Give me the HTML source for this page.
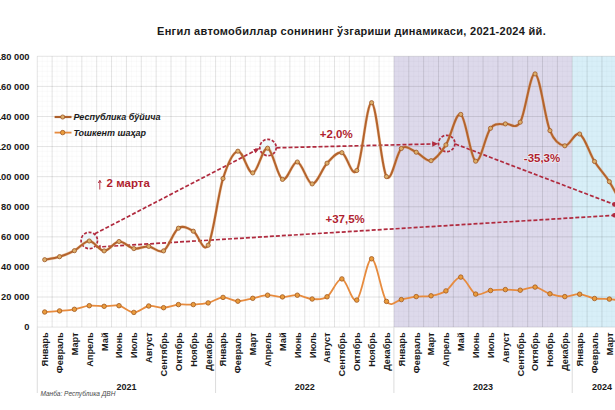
<!DOCTYPE html>
<html><head><meta charset="utf-8"><style>
html,body{margin:0;padding:0;background:#fff;width:615px;height:410px;overflow:hidden}
svg{position:absolute;left:0;top:0}
text{font-family:"Liberation Sans",sans-serif}
.yl{font-size:9.3px;font-weight:bold;fill:#1a1a1a}
.xl{font-size:9.2px;font-weight:bold;fill:#1a1a1a}
.yr{font-size:9px;font-weight:bold;fill:#1a1a1a}
.lg{font-size:9px;font-weight:bold;font-style:italic;fill:#1a1a1a}
.an{font-size:11.5px;font-weight:bold;fill:#b01f30;paint-order:stroke;stroke:#fff;stroke-opacity:0.6;stroke-width:1.5px}
.ti{font-size:11px;font-weight:bold;letter-spacing:0.29px;fill:#1a1a1a}
.src{font-size:7.6px;font-style:italic;fill:#4a4a4a}
</style></head><body>
<svg width="615" height="410" viewBox="0 0 615 410">
<rect x="393.91" y="56.29" width="178.32" height="270.81" fill="#ddd9eb"/>
<rect x="572.23" y="56.29" width="62.77" height="270.81" fill="#d8eff8"/>
<line x1="37.27" y1="61.29" x2="620" y2="61.29" stroke="#000" stroke-opacity="0.022" stroke-width="1"/>
<line x1="37.27" y1="66.29" x2="620" y2="66.29" stroke="#000" stroke-opacity="0.022" stroke-width="1"/>
<line x1="37.27" y1="71.29" x2="620" y2="71.29" stroke="#000" stroke-opacity="0.022" stroke-width="1"/>
<line x1="37.27" y1="76.29" x2="620" y2="76.29" stroke="#000" stroke-opacity="0.022" stroke-width="1"/>
<line x1="37.27" y1="81.29" x2="620" y2="81.29" stroke="#000" stroke-opacity="0.022" stroke-width="1"/>
<line x1="37.27" y1="91.29" x2="620" y2="91.29" stroke="#000" stroke-opacity="0.022" stroke-width="1"/>
<line x1="37.27" y1="96.29" x2="620" y2="96.29" stroke="#000" stroke-opacity="0.022" stroke-width="1"/>
<line x1="37.27" y1="101.29" x2="620" y2="101.29" stroke="#000" stroke-opacity="0.022" stroke-width="1"/>
<line x1="37.27" y1="106.29" x2="620" y2="106.29" stroke="#000" stroke-opacity="0.022" stroke-width="1"/>
<line x1="37.27" y1="111.29" x2="620" y2="111.29" stroke="#000" stroke-opacity="0.022" stroke-width="1"/>
<line x1="37.27" y1="121.29" x2="620" y2="121.29" stroke="#000" stroke-opacity="0.022" stroke-width="1"/>
<line x1="37.27" y1="126.29" x2="620" y2="126.29" stroke="#000" stroke-opacity="0.022" stroke-width="1"/>
<line x1="37.27" y1="131.29" x2="620" y2="131.29" stroke="#000" stroke-opacity="0.022" stroke-width="1"/>
<line x1="37.27" y1="136.29" x2="620" y2="136.29" stroke="#000" stroke-opacity="0.022" stroke-width="1"/>
<line x1="37.27" y1="141.29" x2="620" y2="141.29" stroke="#000" stroke-opacity="0.022" stroke-width="1"/>
<line x1="37.27" y1="151.29" x2="620" y2="151.29" stroke="#000" stroke-opacity="0.022" stroke-width="1"/>
<line x1="37.27" y1="156.29" x2="620" y2="156.29" stroke="#000" stroke-opacity="0.022" stroke-width="1"/>
<line x1="37.27" y1="161.29" x2="620" y2="161.29" stroke="#000" stroke-opacity="0.022" stroke-width="1"/>
<line x1="37.27" y1="166.29" x2="620" y2="166.29" stroke="#000" stroke-opacity="0.022" stroke-width="1"/>
<line x1="37.27" y1="171.29" x2="620" y2="171.29" stroke="#000" stroke-opacity="0.022" stroke-width="1"/>
<line x1="37.27" y1="181.29" x2="620" y2="181.29" stroke="#000" stroke-opacity="0.022" stroke-width="1"/>
<line x1="37.27" y1="186.29" x2="620" y2="186.29" stroke="#000" stroke-opacity="0.022" stroke-width="1"/>
<line x1="37.27" y1="191.29" x2="620" y2="191.29" stroke="#000" stroke-opacity="0.022" stroke-width="1"/>
<line x1="37.27" y1="196.29" x2="620" y2="196.29" stroke="#000" stroke-opacity="0.022" stroke-width="1"/>
<line x1="37.27" y1="201.29" x2="620" y2="201.29" stroke="#000" stroke-opacity="0.022" stroke-width="1"/>
<line x1="37.27" y1="211.29" x2="620" y2="211.29" stroke="#000" stroke-opacity="0.022" stroke-width="1"/>
<line x1="37.27" y1="216.29" x2="620" y2="216.29" stroke="#000" stroke-opacity="0.022" stroke-width="1"/>
<line x1="37.27" y1="221.29" x2="620" y2="221.29" stroke="#000" stroke-opacity="0.022" stroke-width="1"/>
<line x1="37.27" y1="226.29" x2="620" y2="226.29" stroke="#000" stroke-opacity="0.022" stroke-width="1"/>
<line x1="37.27" y1="231.29" x2="620" y2="231.29" stroke="#000" stroke-opacity="0.022" stroke-width="1"/>
<line x1="37.27" y1="241.29" x2="620" y2="241.29" stroke="#000" stroke-opacity="0.022" stroke-width="1"/>
<line x1="37.27" y1="246.29" x2="620" y2="246.29" stroke="#000" stroke-opacity="0.022" stroke-width="1"/>
<line x1="37.27" y1="251.29" x2="620" y2="251.29" stroke="#000" stroke-opacity="0.022" stroke-width="1"/>
<line x1="37.27" y1="256.29" x2="620" y2="256.29" stroke="#000" stroke-opacity="0.022" stroke-width="1"/>
<line x1="37.27" y1="261.29" x2="620" y2="261.29" stroke="#000" stroke-opacity="0.022" stroke-width="1"/>
<line x1="37.27" y1="271.29" x2="620" y2="271.29" stroke="#000" stroke-opacity="0.022" stroke-width="1"/>
<line x1="37.27" y1="276.29" x2="620" y2="276.29" stroke="#000" stroke-opacity="0.022" stroke-width="1"/>
<line x1="37.27" y1="281.29" x2="620" y2="281.29" stroke="#000" stroke-opacity="0.022" stroke-width="1"/>
<line x1="37.27" y1="286.29" x2="620" y2="286.29" stroke="#000" stroke-opacity="0.022" stroke-width="1"/>
<line x1="37.27" y1="291.29" x2="620" y2="291.29" stroke="#000" stroke-opacity="0.022" stroke-width="1"/>
<line x1="37.27" y1="301.29" x2="620" y2="301.29" stroke="#000" stroke-opacity="0.022" stroke-width="1"/>
<line x1="37.27" y1="306.29" x2="620" y2="306.29" stroke="#000" stroke-opacity="0.022" stroke-width="1"/>
<line x1="37.27" y1="311.29" x2="620" y2="311.29" stroke="#000" stroke-opacity="0.022" stroke-width="1"/>
<line x1="37.27" y1="316.29" x2="620" y2="316.29" stroke="#000" stroke-opacity="0.022" stroke-width="1"/>
<line x1="37.27" y1="321.29" x2="620" y2="321.29" stroke="#000" stroke-opacity="0.022" stroke-width="1"/>
<line x1="42.22" y1="56.29" x2="42.22" y2="327.10" stroke="#000" stroke-opacity="0.02" stroke-width="1"/>
<line x1="47.18" y1="56.29" x2="47.18" y2="327.10" stroke="#000" stroke-opacity="0.02" stroke-width="1"/>
<line x1="57.08" y1="56.29" x2="57.08" y2="327.10" stroke="#000" stroke-opacity="0.02" stroke-width="1"/>
<line x1="62.04" y1="56.29" x2="62.04" y2="327.10" stroke="#000" stroke-opacity="0.02" stroke-width="1"/>
<line x1="71.94" y1="56.29" x2="71.94" y2="327.10" stroke="#000" stroke-opacity="0.02" stroke-width="1"/>
<line x1="76.90" y1="56.29" x2="76.90" y2="327.10" stroke="#000" stroke-opacity="0.02" stroke-width="1"/>
<line x1="86.80" y1="56.29" x2="86.80" y2="327.10" stroke="#000" stroke-opacity="0.02" stroke-width="1"/>
<line x1="91.76" y1="56.29" x2="91.76" y2="327.10" stroke="#000" stroke-opacity="0.02" stroke-width="1"/>
<line x1="101.66" y1="56.29" x2="101.66" y2="327.10" stroke="#000" stroke-opacity="0.02" stroke-width="1"/>
<line x1="106.62" y1="56.29" x2="106.62" y2="327.10" stroke="#000" stroke-opacity="0.02" stroke-width="1"/>
<line x1="116.52" y1="56.29" x2="116.52" y2="327.10" stroke="#000" stroke-opacity="0.02" stroke-width="1"/>
<line x1="121.48" y1="56.29" x2="121.48" y2="327.10" stroke="#000" stroke-opacity="0.02" stroke-width="1"/>
<line x1="131.38" y1="56.29" x2="131.38" y2="327.10" stroke="#000" stroke-opacity="0.02" stroke-width="1"/>
<line x1="136.34" y1="56.29" x2="136.34" y2="327.10" stroke="#000" stroke-opacity="0.02" stroke-width="1"/>
<line x1="146.24" y1="56.29" x2="146.24" y2="327.10" stroke="#000" stroke-opacity="0.02" stroke-width="1"/>
<line x1="151.20" y1="56.29" x2="151.20" y2="327.10" stroke="#000" stroke-opacity="0.02" stroke-width="1"/>
<line x1="161.10" y1="56.29" x2="161.10" y2="327.10" stroke="#000" stroke-opacity="0.02" stroke-width="1"/>
<line x1="166.06" y1="56.29" x2="166.06" y2="327.10" stroke="#000" stroke-opacity="0.02" stroke-width="1"/>
<line x1="175.96" y1="56.29" x2="175.96" y2="327.10" stroke="#000" stroke-opacity="0.02" stroke-width="1"/>
<line x1="180.92" y1="56.29" x2="180.92" y2="327.10" stroke="#000" stroke-opacity="0.02" stroke-width="1"/>
<line x1="190.82" y1="56.29" x2="190.82" y2="327.10" stroke="#000" stroke-opacity="0.02" stroke-width="1"/>
<line x1="195.78" y1="56.29" x2="195.78" y2="327.10" stroke="#000" stroke-opacity="0.02" stroke-width="1"/>
<line x1="205.68" y1="56.29" x2="205.68" y2="327.10" stroke="#000" stroke-opacity="0.02" stroke-width="1"/>
<line x1="210.64" y1="56.29" x2="210.64" y2="327.10" stroke="#000" stroke-opacity="0.02" stroke-width="1"/>
<line x1="220.54" y1="56.29" x2="220.54" y2="327.10" stroke="#000" stroke-opacity="0.02" stroke-width="1"/>
<line x1="225.50" y1="56.29" x2="225.50" y2="327.10" stroke="#000" stroke-opacity="0.02" stroke-width="1"/>
<line x1="235.40" y1="56.29" x2="235.40" y2="327.10" stroke="#000" stroke-opacity="0.02" stroke-width="1"/>
<line x1="240.36" y1="56.29" x2="240.36" y2="327.10" stroke="#000" stroke-opacity="0.02" stroke-width="1"/>
<line x1="250.26" y1="56.29" x2="250.26" y2="327.10" stroke="#000" stroke-opacity="0.02" stroke-width="1"/>
<line x1="255.22" y1="56.29" x2="255.22" y2="327.10" stroke="#000" stroke-opacity="0.02" stroke-width="1"/>
<line x1="265.12" y1="56.29" x2="265.12" y2="327.10" stroke="#000" stroke-opacity="0.02" stroke-width="1"/>
<line x1="270.08" y1="56.29" x2="270.08" y2="327.10" stroke="#000" stroke-opacity="0.02" stroke-width="1"/>
<line x1="279.98" y1="56.29" x2="279.98" y2="327.10" stroke="#000" stroke-opacity="0.02" stroke-width="1"/>
<line x1="284.94" y1="56.29" x2="284.94" y2="327.10" stroke="#000" stroke-opacity="0.02" stroke-width="1"/>
<line x1="294.84" y1="56.29" x2="294.84" y2="327.10" stroke="#000" stroke-opacity="0.02" stroke-width="1"/>
<line x1="299.80" y1="56.29" x2="299.80" y2="327.10" stroke="#000" stroke-opacity="0.02" stroke-width="1"/>
<line x1="309.70" y1="56.29" x2="309.70" y2="327.10" stroke="#000" stroke-opacity="0.02" stroke-width="1"/>
<line x1="314.66" y1="56.29" x2="314.66" y2="327.10" stroke="#000" stroke-opacity="0.02" stroke-width="1"/>
<line x1="324.56" y1="56.29" x2="324.56" y2="327.10" stroke="#000" stroke-opacity="0.02" stroke-width="1"/>
<line x1="329.52" y1="56.29" x2="329.52" y2="327.10" stroke="#000" stroke-opacity="0.02" stroke-width="1"/>
<line x1="339.42" y1="56.29" x2="339.42" y2="327.10" stroke="#000" stroke-opacity="0.02" stroke-width="1"/>
<line x1="344.38" y1="56.29" x2="344.38" y2="327.10" stroke="#000" stroke-opacity="0.02" stroke-width="1"/>
<line x1="354.28" y1="56.29" x2="354.28" y2="327.10" stroke="#000" stroke-opacity="0.02" stroke-width="1"/>
<line x1="359.24" y1="56.29" x2="359.24" y2="327.10" stroke="#000" stroke-opacity="0.02" stroke-width="1"/>
<line x1="369.14" y1="56.29" x2="369.14" y2="327.10" stroke="#000" stroke-opacity="0.02" stroke-width="1"/>
<line x1="374.10" y1="56.29" x2="374.10" y2="327.10" stroke="#000" stroke-opacity="0.02" stroke-width="1"/>
<line x1="384.00" y1="56.29" x2="384.00" y2="327.10" stroke="#000" stroke-opacity="0.02" stroke-width="1"/>
<line x1="388.96" y1="56.29" x2="388.96" y2="327.10" stroke="#000" stroke-opacity="0.02" stroke-width="1"/>
<line x1="398.86" y1="56.29" x2="398.86" y2="327.10" stroke="#000" stroke-opacity="0.02" stroke-width="1"/>
<line x1="403.82" y1="56.29" x2="403.82" y2="327.10" stroke="#000" stroke-opacity="0.02" stroke-width="1"/>
<line x1="413.72" y1="56.29" x2="413.72" y2="327.10" stroke="#000" stroke-opacity="0.02" stroke-width="1"/>
<line x1="418.68" y1="56.29" x2="418.68" y2="327.10" stroke="#000" stroke-opacity="0.02" stroke-width="1"/>
<line x1="428.58" y1="56.29" x2="428.58" y2="327.10" stroke="#000" stroke-opacity="0.02" stroke-width="1"/>
<line x1="433.54" y1="56.29" x2="433.54" y2="327.10" stroke="#000" stroke-opacity="0.02" stroke-width="1"/>
<line x1="443.44" y1="56.29" x2="443.44" y2="327.10" stroke="#000" stroke-opacity="0.02" stroke-width="1"/>
<line x1="448.40" y1="56.29" x2="448.40" y2="327.10" stroke="#000" stroke-opacity="0.02" stroke-width="1"/>
<line x1="458.30" y1="56.29" x2="458.30" y2="327.10" stroke="#000" stroke-opacity="0.02" stroke-width="1"/>
<line x1="463.26" y1="56.29" x2="463.26" y2="327.10" stroke="#000" stroke-opacity="0.02" stroke-width="1"/>
<line x1="473.16" y1="56.29" x2="473.16" y2="327.10" stroke="#000" stroke-opacity="0.02" stroke-width="1"/>
<line x1="478.12" y1="56.29" x2="478.12" y2="327.10" stroke="#000" stroke-opacity="0.02" stroke-width="1"/>
<line x1="488.02" y1="56.29" x2="488.02" y2="327.10" stroke="#000" stroke-opacity="0.02" stroke-width="1"/>
<line x1="492.98" y1="56.29" x2="492.98" y2="327.10" stroke="#000" stroke-opacity="0.02" stroke-width="1"/>
<line x1="502.88" y1="56.29" x2="502.88" y2="327.10" stroke="#000" stroke-opacity="0.02" stroke-width="1"/>
<line x1="507.84" y1="56.29" x2="507.84" y2="327.10" stroke="#000" stroke-opacity="0.02" stroke-width="1"/>
<line x1="517.74" y1="56.29" x2="517.74" y2="327.10" stroke="#000" stroke-opacity="0.02" stroke-width="1"/>
<line x1="522.70" y1="56.29" x2="522.70" y2="327.10" stroke="#000" stroke-opacity="0.02" stroke-width="1"/>
<line x1="532.60" y1="56.29" x2="532.60" y2="327.10" stroke="#000" stroke-opacity="0.02" stroke-width="1"/>
<line x1="537.56" y1="56.29" x2="537.56" y2="327.10" stroke="#000" stroke-opacity="0.02" stroke-width="1"/>
<line x1="547.46" y1="56.29" x2="547.46" y2="327.10" stroke="#000" stroke-opacity="0.02" stroke-width="1"/>
<line x1="552.42" y1="56.29" x2="552.42" y2="327.10" stroke="#000" stroke-opacity="0.02" stroke-width="1"/>
<line x1="562.32" y1="56.29" x2="562.32" y2="327.10" stroke="#000" stroke-opacity="0.02" stroke-width="1"/>
<line x1="567.28" y1="56.29" x2="567.28" y2="327.10" stroke="#000" stroke-opacity="0.02" stroke-width="1"/>
<line x1="577.18" y1="56.29" x2="577.18" y2="327.10" stroke="#000" stroke-opacity="0.02" stroke-width="1"/>
<line x1="582.14" y1="56.29" x2="582.14" y2="327.10" stroke="#000" stroke-opacity="0.02" stroke-width="1"/>
<line x1="592.04" y1="56.29" x2="592.04" y2="327.10" stroke="#000" stroke-opacity="0.02" stroke-width="1"/>
<line x1="597.00" y1="56.29" x2="597.00" y2="327.10" stroke="#000" stroke-opacity="0.02" stroke-width="1"/>
<line x1="606.90" y1="56.29" x2="606.90" y2="327.10" stroke="#000" stroke-opacity="0.02" stroke-width="1"/>
<line x1="611.86" y1="56.29" x2="611.86" y2="327.10" stroke="#000" stroke-opacity="0.02" stroke-width="1"/>
<line x1="621.76" y1="56.29" x2="621.76" y2="327.10" stroke="#000" stroke-opacity="0.02" stroke-width="1"/>
<line x1="626.72" y1="56.29" x2="626.72" y2="327.10" stroke="#000" stroke-opacity="0.02" stroke-width="1"/>
<line x1="636.62" y1="56.29" x2="636.62" y2="327.10" stroke="#000" stroke-opacity="0.02" stroke-width="1"/>
<line x1="641.58" y1="56.29" x2="641.58" y2="327.10" stroke="#000" stroke-opacity="0.02" stroke-width="1"/>
<line x1="651.48" y1="56.29" x2="651.48" y2="327.10" stroke="#000" stroke-opacity="0.02" stroke-width="1"/>
<line x1="656.44" y1="56.29" x2="656.44" y2="327.10" stroke="#000" stroke-opacity="0.02" stroke-width="1"/>
<line x1="37.27" y1="327.10" x2="620" y2="327.10" stroke="#000" stroke-opacity="0.11" stroke-width="1"/>
<line x1="37.27" y1="297.01" x2="620" y2="297.01" stroke="#000" stroke-opacity="0.11" stroke-width="1"/>
<line x1="37.27" y1="266.92" x2="620" y2="266.92" stroke="#000" stroke-opacity="0.11" stroke-width="1"/>
<line x1="37.27" y1="236.83" x2="620" y2="236.83" stroke="#000" stroke-opacity="0.11" stroke-width="1"/>
<line x1="37.27" y1="206.74" x2="620" y2="206.74" stroke="#000" stroke-opacity="0.11" stroke-width="1"/>
<line x1="37.27" y1="176.65" x2="620" y2="176.65" stroke="#000" stroke-opacity="0.11" stroke-width="1"/>
<line x1="37.27" y1="146.56" x2="620" y2="146.56" stroke="#000" stroke-opacity="0.11" stroke-width="1"/>
<line x1="37.27" y1="116.47" x2="620" y2="116.47" stroke="#000" stroke-opacity="0.11" stroke-width="1"/>
<line x1="37.27" y1="86.38" x2="620" y2="86.38" stroke="#000" stroke-opacity="0.11" stroke-width="1"/>
<line x1="37.27" y1="56.29" x2="620" y2="56.29" stroke="#000" stroke-opacity="0.11" stroke-width="1"/>
<line x1="37.27" y1="56.29" x2="37.27" y2="327.10" stroke="#000" stroke-opacity="0.11" stroke-width="1"/>
<line x1="52.13" y1="56.29" x2="52.13" y2="327.10" stroke="#000" stroke-opacity="0.11" stroke-width="1"/>
<line x1="66.99" y1="56.29" x2="66.99" y2="327.10" stroke="#000" stroke-opacity="0.11" stroke-width="1"/>
<line x1="81.85" y1="56.29" x2="81.85" y2="327.10" stroke="#000" stroke-opacity="0.11" stroke-width="1"/>
<line x1="96.71" y1="56.29" x2="96.71" y2="327.10" stroke="#000" stroke-opacity="0.11" stroke-width="1"/>
<line x1="111.57" y1="56.29" x2="111.57" y2="327.10" stroke="#000" stroke-opacity="0.11" stroke-width="1"/>
<line x1="126.43" y1="56.29" x2="126.43" y2="327.10" stroke="#000" stroke-opacity="0.11" stroke-width="1"/>
<line x1="141.29" y1="56.29" x2="141.29" y2="327.10" stroke="#000" stroke-opacity="0.11" stroke-width="1"/>
<line x1="156.15" y1="56.29" x2="156.15" y2="327.10" stroke="#000" stroke-opacity="0.11" stroke-width="1"/>
<line x1="171.01" y1="56.29" x2="171.01" y2="327.10" stroke="#000" stroke-opacity="0.11" stroke-width="1"/>
<line x1="185.87" y1="56.29" x2="185.87" y2="327.10" stroke="#000" stroke-opacity="0.11" stroke-width="1"/>
<line x1="200.73" y1="56.29" x2="200.73" y2="327.10" stroke="#000" stroke-opacity="0.11" stroke-width="1"/>
<line x1="215.59" y1="56.29" x2="215.59" y2="327.10" stroke="#000" stroke-opacity="0.11" stroke-width="1"/>
<line x1="230.45" y1="56.29" x2="230.45" y2="327.10" stroke="#000" stroke-opacity="0.11" stroke-width="1"/>
<line x1="245.31" y1="56.29" x2="245.31" y2="327.10" stroke="#000" stroke-opacity="0.11" stroke-width="1"/>
<line x1="260.17" y1="56.29" x2="260.17" y2="327.10" stroke="#000" stroke-opacity="0.11" stroke-width="1"/>
<line x1="275.03" y1="56.29" x2="275.03" y2="327.10" stroke="#000" stroke-opacity="0.11" stroke-width="1"/>
<line x1="289.89" y1="56.29" x2="289.89" y2="327.10" stroke="#000" stroke-opacity="0.11" stroke-width="1"/>
<line x1="304.75" y1="56.29" x2="304.75" y2="327.10" stroke="#000" stroke-opacity="0.11" stroke-width="1"/>
<line x1="319.61" y1="56.29" x2="319.61" y2="327.10" stroke="#000" stroke-opacity="0.11" stroke-width="1"/>
<line x1="334.47" y1="56.29" x2="334.47" y2="327.10" stroke="#000" stroke-opacity="0.11" stroke-width="1"/>
<line x1="349.33" y1="56.29" x2="349.33" y2="327.10" stroke="#000" stroke-opacity="0.11" stroke-width="1"/>
<line x1="364.19" y1="56.29" x2="364.19" y2="327.10" stroke="#000" stroke-opacity="0.11" stroke-width="1"/>
<line x1="379.05" y1="56.29" x2="379.05" y2="327.10" stroke="#000" stroke-opacity="0.11" stroke-width="1"/>
<line x1="393.91" y1="56.29" x2="393.91" y2="327.10" stroke="#000" stroke-opacity="0.11" stroke-width="1"/>
<line x1="408.77" y1="56.29" x2="408.77" y2="327.10" stroke="#000" stroke-opacity="0.11" stroke-width="1"/>
<line x1="423.63" y1="56.29" x2="423.63" y2="327.10" stroke="#000" stroke-opacity="0.11" stroke-width="1"/>
<line x1="438.49" y1="56.29" x2="438.49" y2="327.10" stroke="#000" stroke-opacity="0.11" stroke-width="1"/>
<line x1="453.35" y1="56.29" x2="453.35" y2="327.10" stroke="#000" stroke-opacity="0.11" stroke-width="1"/>
<line x1="468.21" y1="56.29" x2="468.21" y2="327.10" stroke="#000" stroke-opacity="0.11" stroke-width="1"/>
<line x1="483.07" y1="56.29" x2="483.07" y2="327.10" stroke="#000" stroke-opacity="0.11" stroke-width="1"/>
<line x1="497.93" y1="56.29" x2="497.93" y2="327.10" stroke="#000" stroke-opacity="0.11" stroke-width="1"/>
<line x1="512.79" y1="56.29" x2="512.79" y2="327.10" stroke="#000" stroke-opacity="0.11" stroke-width="1"/>
<line x1="527.65" y1="56.29" x2="527.65" y2="327.10" stroke="#000" stroke-opacity="0.11" stroke-width="1"/>
<line x1="542.51" y1="56.29" x2="542.51" y2="327.10" stroke="#000" stroke-opacity="0.11" stroke-width="1"/>
<line x1="557.37" y1="56.29" x2="557.37" y2="327.10" stroke="#000" stroke-opacity="0.11" stroke-width="1"/>
<line x1="572.23" y1="56.29" x2="572.23" y2="327.10" stroke="#000" stroke-opacity="0.11" stroke-width="1"/>
<line x1="587.09" y1="56.29" x2="587.09" y2="327.10" stroke="#000" stroke-opacity="0.11" stroke-width="1"/>
<line x1="601.95" y1="56.29" x2="601.95" y2="327.10" stroke="#000" stroke-opacity="0.11" stroke-width="1"/>
<line x1="616.81" y1="56.29" x2="616.81" y2="327.10" stroke="#000" stroke-opacity="0.11" stroke-width="1"/>
<line x1="631.67" y1="56.29" x2="631.67" y2="327.10" stroke="#000" stroke-opacity="0.11" stroke-width="1"/>
<line x1="646.53" y1="56.29" x2="646.53" y2="327.10" stroke="#000" stroke-opacity="0.11" stroke-width="1"/>
<line x1="37.27" y1="327.10" x2="37.27" y2="393" stroke="#dcdcdc" stroke-width="1"/>
<line x1="215.59" y1="327.10" x2="215.59" y2="393" stroke="#dcdcdc" stroke-width="1"/>
<line x1="393.91" y1="327.10" x2="393.91" y2="393" stroke="#dcdcdc" stroke-width="1"/>
<line x1="572.23" y1="327.10" x2="572.23" y2="393" stroke="#dcdcdc" stroke-width="1"/>
<text x="29.5" y="330.40" text-anchor="end" class="yl">0</text>
<text x="29.5" y="300.31" text-anchor="end" class="yl">20 000</text>
<text x="29.5" y="270.22" text-anchor="end" class="yl">40 000</text>
<text x="29.5" y="240.13" text-anchor="end" class="yl">60 000</text>
<text x="29.5" y="210.04" text-anchor="end" class="yl">80 000</text>
<text x="29.5" y="179.95" text-anchor="end" class="yl">100 000</text>
<text x="29.5" y="149.86" text-anchor="end" class="yl">120 000</text>
<text x="29.5" y="119.77" text-anchor="end" class="yl">140 000</text>
<text x="29.5" y="89.68" text-anchor="end" class="yl">160 000</text>
<text x="29.5" y="59.59" text-anchor="end" class="yl">180 000</text>
<text transform="translate(48.10,332.4) rotate(-90)" text-anchor="end" class="xl">Январь</text>
<text transform="translate(62.96,332.4) rotate(-90)" text-anchor="end" class="xl">Февраль</text>
<text transform="translate(77.82,332.4) rotate(-90)" text-anchor="end" class="xl">Март</text>
<text transform="translate(92.68,332.4) rotate(-90)" text-anchor="end" class="xl">Апрель</text>
<text transform="translate(107.54,332.4) rotate(-90)" text-anchor="end" class="xl">Май</text>
<text transform="translate(122.40,332.4) rotate(-90)" text-anchor="end" class="xl">Июнь</text>
<text transform="translate(137.26,332.4) rotate(-90)" text-anchor="end" class="xl">Июль</text>
<text transform="translate(152.12,332.4) rotate(-90)" text-anchor="end" class="xl">Август</text>
<text transform="translate(166.98,332.4) rotate(-90)" text-anchor="end" class="xl">Сентябрь</text>
<text transform="translate(181.84,332.4) rotate(-90)" text-anchor="end" class="xl">Октябрь</text>
<text transform="translate(196.70,332.4) rotate(-90)" text-anchor="end" class="xl">Ноябрь</text>
<text transform="translate(211.56,332.4) rotate(-90)" text-anchor="end" class="xl">Декабрь</text>
<text transform="translate(226.42,332.4) rotate(-90)" text-anchor="end" class="xl">Январь</text>
<text transform="translate(241.28,332.4) rotate(-90)" text-anchor="end" class="xl">Февраль</text>
<text transform="translate(256.14,332.4) rotate(-90)" text-anchor="end" class="xl">Март</text>
<text transform="translate(271.00,332.4) rotate(-90)" text-anchor="end" class="xl">Апрель</text>
<text transform="translate(285.86,332.4) rotate(-90)" text-anchor="end" class="xl">Май</text>
<text transform="translate(300.72,332.4) rotate(-90)" text-anchor="end" class="xl">Июнь</text>
<text transform="translate(315.58,332.4) rotate(-90)" text-anchor="end" class="xl">Июль</text>
<text transform="translate(330.44,332.4) rotate(-90)" text-anchor="end" class="xl">Август</text>
<text transform="translate(345.30,332.4) rotate(-90)" text-anchor="end" class="xl">Сентябрь</text>
<text transform="translate(360.16,332.4) rotate(-90)" text-anchor="end" class="xl">Октябрь</text>
<text transform="translate(375.02,332.4) rotate(-90)" text-anchor="end" class="xl">Ноябрь</text>
<text transform="translate(389.88,332.4) rotate(-90)" text-anchor="end" class="xl">Декабрь</text>
<text transform="translate(404.74,332.4) rotate(-90)" text-anchor="end" class="xl">Январь</text>
<text transform="translate(419.60,332.4) rotate(-90)" text-anchor="end" class="xl">Февраль</text>
<text transform="translate(434.46,332.4) rotate(-90)" text-anchor="end" class="xl">Март</text>
<text transform="translate(449.32,332.4) rotate(-90)" text-anchor="end" class="xl">Апрель</text>
<text transform="translate(464.18,332.4) rotate(-90)" text-anchor="end" class="xl">Май</text>
<text transform="translate(479.04,332.4) rotate(-90)" text-anchor="end" class="xl">Июнь</text>
<text transform="translate(493.90,332.4) rotate(-90)" text-anchor="end" class="xl">Июль</text>
<text transform="translate(508.76,332.4) rotate(-90)" text-anchor="end" class="xl">Август</text>
<text transform="translate(523.62,332.4) rotate(-90)" text-anchor="end" class="xl">Сентябрь</text>
<text transform="translate(538.48,332.4) rotate(-90)" text-anchor="end" class="xl">Октябрь</text>
<text transform="translate(553.34,332.4) rotate(-90)" text-anchor="end" class="xl">Ноябрь</text>
<text transform="translate(568.20,332.4) rotate(-90)" text-anchor="end" class="xl">Декабрь</text>
<text transform="translate(583.06,332.4) rotate(-90)" text-anchor="end" class="xl">Январь</text>
<text transform="translate(597.92,332.4) rotate(-90)" text-anchor="end" class="xl">Февраль</text>
<text transform="translate(612.78,332.4) rotate(-90)" text-anchor="end" class="xl">Март</text>
<text transform="translate(627.64,332.4) rotate(-90)" text-anchor="end" class="xl">Апрель</text>
<text x="126.43" y="389.6" text-anchor="middle" class="yr">2021</text>
<text x="304.75" y="389.6" text-anchor="middle" class="yr">2022</text>
<text x="483.07" y="389.6" text-anchor="middle" class="yr">2023</text>
<text x="601.95" y="389.6" text-anchor="middle" class="yr">2024</text>
<line x1="96.2" y1="247.1" x2="613" y2="215.4" stroke="#b02a3e" stroke-width="1.7" stroke-dasharray="4,2"/>
<polygon points="96.20,247.10 100.56,244.82 100.82,248.81" fill="#b02a3e"/>
<line x1="94.8" y1="233.8" x2="256" y2="150.2" stroke="#b02a3e" stroke-width="1.7" stroke-dasharray="4,2"/>
<polygon points="259.60,148.20 255.52,153.36 253.03,148.57" fill="#b02a3e"/>
<line x1="276.5" y1="147.8" x2="434" y2="143.9" stroke="#b02a3e" stroke-width="1.7" stroke-dasharray="4,2"/>
<polygon points="438.20,143.80 432.27,146.65 432.14,141.25" fill="#b02a3e"/>
<line x1="455.3" y1="144.0" x2="613" y2="204.0" stroke="#b02a3e" stroke-width="1.7" stroke-dasharray="4,2"/>
<ellipse cx="614.5" cy="204.4" rx="2.4" ry="2.3" fill="#b02a3e"/>
<ellipse cx="614.5" cy="215.3" rx="2.4" ry="2.3" fill="#b02a3e"/>
<circle cx="89.3" cy="240.5" r="8.2" fill="#d2ecf6" fill-opacity="0.3" stroke="#b02a3e" stroke-width="1.7" stroke-dasharray="3,1.7"/>
<circle cx="268.0" cy="147.5" r="8.2" fill="#d2ecf6" fill-opacity="0.3" stroke="#b02a3e" stroke-width="1.7" stroke-dasharray="3,1.7"/>
<circle cx="446.7" cy="143.5" r="8.2" fill="#d2ecf6" fill-opacity="0.3" stroke="#b02a3e" stroke-width="1.7" stroke-dasharray="3,1.7"/>
<path d="M44.70,312.00 C47.18,311.82 54.61,311.35 59.56,310.90 C64.51,310.45 69.47,310.17 74.42,309.30 C79.37,308.43 84.33,306.20 89.28,305.70 C94.23,305.20 99.19,306.30 104.14,306.30 C109.09,306.30 114.05,304.68 119.00,305.70 C123.95,306.72 128.91,312.35 133.86,312.40 C138.81,312.45 143.77,306.78 148.72,306.00 C153.67,305.22 158.63,307.93 163.58,307.70 C168.53,307.47 173.49,305.12 178.44,304.60 C183.39,304.08 188.35,304.88 193.30,304.60 C198.25,304.32 203.21,304.10 208.16,302.90 C213.11,301.70 218.07,297.68 223.02,297.40 C227.97,297.12 232.93,301.05 237.88,301.20 C242.83,301.35 247.79,299.30 252.74,298.30 C257.69,297.30 262.65,295.43 267.60,295.20 C272.55,294.97 277.51,296.90 282.46,296.90 C287.41,296.90 292.37,294.85 297.32,295.20 C302.27,295.55 307.23,298.73 312.18,299.00 C317.13,299.27 322.09,300.15 327.04,296.80 C331.99,293.45 336.95,278.35 341.90,278.90 C346.85,279.45 351.81,303.45 356.76,300.10 C361.71,296.75 366.67,258.58 371.62,258.80 C376.57,259.02 381.53,294.60 386.48,301.40 C391.43,308.20 396.39,300.40 401.34,299.60 C406.29,298.80 411.25,297.23 416.20,296.60 C421.15,295.97 426.11,296.75 431.06,295.80 C436.01,294.85 440.97,294.02 445.92,290.90 C450.87,287.78 455.83,276.57 460.78,277.10 C465.73,277.63 470.69,291.87 475.64,294.10 C480.59,296.33 485.55,291.25 490.50,290.50 C495.45,289.75 500.41,289.65 505.36,289.60 C510.31,289.55 515.27,290.62 520.22,290.20 C525.17,289.78 530.13,286.50 535.08,287.10 C540.03,287.70 544.99,292.22 549.94,293.80 C554.89,295.38 559.85,296.53 564.80,296.60 C569.75,296.67 574.71,293.88 579.66,294.20 C584.61,294.52 589.57,297.68 594.52,298.50 C599.47,299.32 604.43,298.68 609.38,299.10 C614.33,299.52 621.76,300.68 624.24,301.00" fill="none" stroke="#e78b3e" stroke-width="1.8"/>
<circle cx="44.70" cy="312.00" r="2.25" fill="#eb9c3c" stroke="#a55e25" stroke-width="0.85"/>
<circle cx="59.56" cy="310.90" r="2.25" fill="#eb9c3c" stroke="#a55e25" stroke-width="0.85"/>
<circle cx="74.42" cy="309.30" r="2.25" fill="#eb9c3c" stroke="#a55e25" stroke-width="0.85"/>
<circle cx="89.28" cy="305.70" r="2.25" fill="#eb9c3c" stroke="#a55e25" stroke-width="0.85"/>
<circle cx="104.14" cy="306.30" r="2.25" fill="#eb9c3c" stroke="#a55e25" stroke-width="0.85"/>
<circle cx="119.00" cy="305.70" r="2.25" fill="#eb9c3c" stroke="#a55e25" stroke-width="0.85"/>
<circle cx="133.86" cy="312.40" r="2.25" fill="#eb9c3c" stroke="#a55e25" stroke-width="0.85"/>
<circle cx="148.72" cy="306.00" r="2.25" fill="#eb9c3c" stroke="#a55e25" stroke-width="0.85"/>
<circle cx="163.58" cy="307.70" r="2.25" fill="#eb9c3c" stroke="#a55e25" stroke-width="0.85"/>
<circle cx="178.44" cy="304.60" r="2.25" fill="#eb9c3c" stroke="#a55e25" stroke-width="0.85"/>
<circle cx="193.30" cy="304.60" r="2.25" fill="#eb9c3c" stroke="#a55e25" stroke-width="0.85"/>
<circle cx="208.16" cy="302.90" r="2.25" fill="#eb9c3c" stroke="#a55e25" stroke-width="0.85"/>
<circle cx="223.02" cy="297.40" r="2.25" fill="#eb9c3c" stroke="#a55e25" stroke-width="0.85"/>
<circle cx="237.88" cy="301.20" r="2.25" fill="#eb9c3c" stroke="#a55e25" stroke-width="0.85"/>
<circle cx="252.74" cy="298.30" r="2.25" fill="#eb9c3c" stroke="#a55e25" stroke-width="0.85"/>
<circle cx="267.60" cy="295.20" r="2.25" fill="#eb9c3c" stroke="#a55e25" stroke-width="0.85"/>
<circle cx="282.46" cy="296.90" r="2.25" fill="#eb9c3c" stroke="#a55e25" stroke-width="0.85"/>
<circle cx="297.32" cy="295.20" r="2.25" fill="#eb9c3c" stroke="#a55e25" stroke-width="0.85"/>
<circle cx="312.18" cy="299.00" r="2.25" fill="#eb9c3c" stroke="#a55e25" stroke-width="0.85"/>
<circle cx="327.04" cy="296.80" r="2.25" fill="#eb9c3c" stroke="#a55e25" stroke-width="0.85"/>
<circle cx="341.90" cy="278.90" r="2.25" fill="#eb9c3c" stroke="#a55e25" stroke-width="0.85"/>
<circle cx="356.76" cy="300.10" r="2.25" fill="#eb9c3c" stroke="#a55e25" stroke-width="0.85"/>
<circle cx="371.62" cy="258.80" r="2.25" fill="#eb9c3c" stroke="#a55e25" stroke-width="0.85"/>
<circle cx="386.48" cy="301.40" r="2.25" fill="#eb9c3c" stroke="#a55e25" stroke-width="0.85"/>
<circle cx="401.34" cy="299.60" r="2.25" fill="#eb9c3c" stroke="#a55e25" stroke-width="0.85"/>
<circle cx="416.20" cy="296.60" r="2.25" fill="#eb9c3c" stroke="#a55e25" stroke-width="0.85"/>
<circle cx="431.06" cy="295.80" r="2.25" fill="#eb9c3c" stroke="#a55e25" stroke-width="0.85"/>
<circle cx="445.92" cy="290.90" r="2.25" fill="#eb9c3c" stroke="#a55e25" stroke-width="0.85"/>
<circle cx="460.78" cy="277.10" r="2.25" fill="#eb9c3c" stroke="#a55e25" stroke-width="0.85"/>
<circle cx="475.64" cy="294.10" r="2.25" fill="#eb9c3c" stroke="#a55e25" stroke-width="0.85"/>
<circle cx="490.50" cy="290.50" r="2.25" fill="#eb9c3c" stroke="#a55e25" stroke-width="0.85"/>
<circle cx="505.36" cy="289.60" r="2.25" fill="#eb9c3c" stroke="#a55e25" stroke-width="0.85"/>
<circle cx="520.22" cy="290.20" r="2.25" fill="#eb9c3c" stroke="#a55e25" stroke-width="0.85"/>
<circle cx="535.08" cy="287.10" r="2.25" fill="#eb9c3c" stroke="#a55e25" stroke-width="0.85"/>
<circle cx="549.94" cy="293.80" r="2.25" fill="#eb9c3c" stroke="#a55e25" stroke-width="0.85"/>
<circle cx="564.80" cy="296.60" r="2.25" fill="#eb9c3c" stroke="#a55e25" stroke-width="0.85"/>
<circle cx="579.66" cy="294.20" r="2.25" fill="#eb9c3c" stroke="#a55e25" stroke-width="0.85"/>
<circle cx="594.52" cy="298.50" r="2.25" fill="#eb9c3c" stroke="#a55e25" stroke-width="0.85"/>
<circle cx="609.38" cy="299.10" r="2.25" fill="#eb9c3c" stroke="#a55e25" stroke-width="0.85"/>
<circle cx="624.24" cy="301.00" r="2.25" fill="#eb9c3c" stroke="#a55e25" stroke-width="0.85"/>
<path d="M44.70,259.70 C47.18,259.20 54.61,258.20 59.56,256.70 C64.51,255.20 69.47,253.32 74.42,250.70 C79.37,248.08 84.33,240.97 89.28,241.00 C94.23,241.03 99.19,250.82 104.14,250.90 C109.09,250.98 114.05,241.88 119.00,241.50 C123.95,241.12 128.91,247.78 133.86,248.60 C138.81,249.42 143.77,246.02 148.72,246.40 C153.67,246.78 158.63,253.93 163.58,250.90 C168.53,247.87 173.49,231.48 178.44,228.20 C183.39,224.92 188.35,228.37 193.30,231.20 C198.25,234.03 203.21,253.98 208.16,245.20 C213.11,236.42 218.07,194.17 223.02,178.50 C227.97,162.83 232.93,152.13 237.88,151.20 C242.83,150.27 247.79,173.40 252.74,172.90 C257.69,172.40 262.65,147.12 267.60,148.20 C272.55,149.28 277.51,177.10 282.46,179.40 C287.41,181.70 292.37,161.25 297.32,162.00 C302.27,162.75 307.23,183.70 312.18,183.90 C317.13,184.10 322.09,168.40 327.04,163.20 C331.99,158.00 336.95,151.48 341.90,152.70 C346.85,153.92 351.81,178.83 356.76,170.50 C361.71,162.17 366.67,101.68 371.62,102.70 C376.57,103.72 381.53,168.97 386.48,176.60 C391.43,184.23 396.39,152.57 401.34,148.50 C406.29,144.43 411.25,150.17 416.20,152.20 C421.15,154.23 426.11,161.92 431.06,160.70 C436.01,159.48 440.97,152.62 445.92,144.90 C450.87,137.18 455.83,111.68 460.78,114.40 C465.73,117.12 470.69,158.88 475.64,161.20 C480.59,163.52 485.55,134.52 490.50,128.30 C495.45,122.08 500.41,124.92 505.36,123.90 C510.31,122.88 515.27,130.53 520.22,122.20 C525.17,113.87 530.13,72.50 535.08,73.90 C540.03,75.30 544.99,118.62 549.94,130.60 C554.89,142.58 559.85,145.23 564.80,145.80 C569.75,146.37 574.71,131.38 579.66,134.00 C584.61,136.62 589.57,153.55 594.52,161.50 C599.47,169.45 604.43,173.78 609.38,181.70 C614.33,189.62 621.76,204.45 624.24,209.00" fill="none" stroke="#e09a5a" stroke-opacity="0.45" stroke-width="3.0"/>
<path d="M44.70,259.70 C47.18,259.20 54.61,258.20 59.56,256.70 C64.51,255.20 69.47,253.32 74.42,250.70 C79.37,248.08 84.33,240.97 89.28,241.00 C94.23,241.03 99.19,250.82 104.14,250.90 C109.09,250.98 114.05,241.88 119.00,241.50 C123.95,241.12 128.91,247.78 133.86,248.60 C138.81,249.42 143.77,246.02 148.72,246.40 C153.67,246.78 158.63,253.93 163.58,250.90 C168.53,247.87 173.49,231.48 178.44,228.20 C183.39,224.92 188.35,228.37 193.30,231.20 C198.25,234.03 203.21,253.98 208.16,245.20 C213.11,236.42 218.07,194.17 223.02,178.50 C227.97,162.83 232.93,152.13 237.88,151.20 C242.83,150.27 247.79,173.40 252.74,172.90 C257.69,172.40 262.65,147.12 267.60,148.20 C272.55,149.28 277.51,177.10 282.46,179.40 C287.41,181.70 292.37,161.25 297.32,162.00 C302.27,162.75 307.23,183.70 312.18,183.90 C317.13,184.10 322.09,168.40 327.04,163.20 C331.99,158.00 336.95,151.48 341.90,152.70 C346.85,153.92 351.81,178.83 356.76,170.50 C361.71,162.17 366.67,101.68 371.62,102.70 C376.57,103.72 381.53,168.97 386.48,176.60 C391.43,184.23 396.39,152.57 401.34,148.50 C406.29,144.43 411.25,150.17 416.20,152.20 C421.15,154.23 426.11,161.92 431.06,160.70 C436.01,159.48 440.97,152.62 445.92,144.90 C450.87,137.18 455.83,111.68 460.78,114.40 C465.73,117.12 470.69,158.88 475.64,161.20 C480.59,163.52 485.55,134.52 490.50,128.30 C495.45,122.08 500.41,124.92 505.36,123.90 C510.31,122.88 515.27,130.53 520.22,122.20 C525.17,113.87 530.13,72.50 535.08,73.90 C540.03,75.30 544.99,118.62 549.94,130.60 C554.89,142.58 559.85,145.23 564.80,145.80 C569.75,146.37 574.71,131.38 579.66,134.00 C584.61,136.62 589.57,153.55 594.52,161.50 C599.47,169.45 604.43,173.78 609.38,181.70 C614.33,189.62 621.76,204.45 624.24,209.00" fill="none" stroke="#b4632c" stroke-width="2.0"/>
<circle cx="44.70" cy="259.70" r="2.1" fill="#dcae6a" stroke="#9c5526" stroke-width="0.8"/>
<circle cx="59.56" cy="256.70" r="2.1" fill="#dcae6a" stroke="#9c5526" stroke-width="0.8"/>
<circle cx="74.42" cy="250.70" r="2.1" fill="#dcae6a" stroke="#9c5526" stroke-width="0.8"/>
<circle cx="89.28" cy="241.00" r="2.1" fill="#dcae6a" stroke="#9c5526" stroke-width="0.8"/>
<circle cx="104.14" cy="250.90" r="2.1" fill="#dcae6a" stroke="#9c5526" stroke-width="0.8"/>
<circle cx="119.00" cy="241.50" r="2.1" fill="#dcae6a" stroke="#9c5526" stroke-width="0.8"/>
<circle cx="133.86" cy="248.60" r="2.1" fill="#dcae6a" stroke="#9c5526" stroke-width="0.8"/>
<circle cx="148.72" cy="246.40" r="2.1" fill="#dcae6a" stroke="#9c5526" stroke-width="0.8"/>
<circle cx="163.58" cy="250.90" r="2.1" fill="#dcae6a" stroke="#9c5526" stroke-width="0.8"/>
<circle cx="178.44" cy="228.20" r="2.1" fill="#dcae6a" stroke="#9c5526" stroke-width="0.8"/>
<circle cx="193.30" cy="231.20" r="2.1" fill="#dcae6a" stroke="#9c5526" stroke-width="0.8"/>
<circle cx="208.16" cy="245.20" r="2.1" fill="#dcae6a" stroke="#9c5526" stroke-width="0.8"/>
<circle cx="223.02" cy="178.50" r="2.1" fill="#dcae6a" stroke="#9c5526" stroke-width="0.8"/>
<circle cx="237.88" cy="151.20" r="2.1" fill="#dcae6a" stroke="#9c5526" stroke-width="0.8"/>
<circle cx="252.74" cy="172.90" r="2.1" fill="#dcae6a" stroke="#9c5526" stroke-width="0.8"/>
<circle cx="267.60" cy="148.20" r="2.1" fill="#dcae6a" stroke="#9c5526" stroke-width="0.8"/>
<circle cx="282.46" cy="179.40" r="2.1" fill="#dcae6a" stroke="#9c5526" stroke-width="0.8"/>
<circle cx="297.32" cy="162.00" r="2.1" fill="#dcae6a" stroke="#9c5526" stroke-width="0.8"/>
<circle cx="312.18" cy="183.90" r="2.1" fill="#dcae6a" stroke="#9c5526" stroke-width="0.8"/>
<circle cx="327.04" cy="163.20" r="2.1" fill="#dcae6a" stroke="#9c5526" stroke-width="0.8"/>
<circle cx="341.90" cy="152.70" r="2.1" fill="#dcae6a" stroke="#9c5526" stroke-width="0.8"/>
<circle cx="356.76" cy="170.50" r="2.1" fill="#dcae6a" stroke="#9c5526" stroke-width="0.8"/>
<circle cx="371.62" cy="102.70" r="2.1" fill="#dcae6a" stroke="#9c5526" stroke-width="0.8"/>
<circle cx="386.48" cy="176.60" r="2.1" fill="#dcae6a" stroke="#9c5526" stroke-width="0.8"/>
<circle cx="401.34" cy="148.50" r="2.1" fill="#dcae6a" stroke="#9c5526" stroke-width="0.8"/>
<circle cx="416.20" cy="152.20" r="2.1" fill="#dcae6a" stroke="#9c5526" stroke-width="0.8"/>
<circle cx="431.06" cy="160.70" r="2.1" fill="#dcae6a" stroke="#9c5526" stroke-width="0.8"/>
<circle cx="445.92" cy="144.90" r="2.1" fill="#dcae6a" stroke="#9c5526" stroke-width="0.8"/>
<circle cx="460.78" cy="114.40" r="2.1" fill="#dcae6a" stroke="#9c5526" stroke-width="0.8"/>
<circle cx="475.64" cy="161.20" r="2.1" fill="#dcae6a" stroke="#9c5526" stroke-width="0.8"/>
<circle cx="490.50" cy="128.30" r="2.1" fill="#dcae6a" stroke="#9c5526" stroke-width="0.8"/>
<circle cx="505.36" cy="123.90" r="2.1" fill="#dcae6a" stroke="#9c5526" stroke-width="0.8"/>
<circle cx="520.22" cy="122.20" r="2.1" fill="#dcae6a" stroke="#9c5526" stroke-width="0.8"/>
<circle cx="535.08" cy="73.90" r="2.1" fill="#dcae6a" stroke="#9c5526" stroke-width="0.8"/>
<circle cx="549.94" cy="130.60" r="2.1" fill="#dcae6a" stroke="#9c5526" stroke-width="0.8"/>
<circle cx="564.80" cy="145.80" r="2.1" fill="#dcae6a" stroke="#9c5526" stroke-width="0.8"/>
<circle cx="579.66" cy="134.00" r="2.1" fill="#dcae6a" stroke="#9c5526" stroke-width="0.8"/>
<circle cx="594.52" cy="161.50" r="2.1" fill="#dcae6a" stroke="#9c5526" stroke-width="0.8"/>
<circle cx="609.38" cy="181.70" r="2.1" fill="#dcae6a" stroke="#9c5526" stroke-width="0.8"/>
<circle cx="624.24" cy="209.00" r="2.1" fill="#dcae6a" stroke="#9c5526" stroke-width="0.8"/>
<line x1="54.6" y1="117" x2="71.5" y2="117" stroke="#ad5f2b" stroke-width="2.2"/>
<circle cx="62.7" cy="117" r="2.1" fill="#dcae6a" stroke="#9c5526" stroke-width="0.8"/>
<line x1="54.6" y1="132.6" x2="71.5" y2="132.6" stroke="#e78b3e" stroke-width="1.8"/>
<circle cx="62.7" cy="132.6" r="2.25" fill="#eb9c3c" stroke="#a55e25" stroke-width="0.85"/>
<text x="73.4" y="120.4" class="lg">Республика бўйича</text>
<text x="73.4" y="135.8" class="lg">Тошкент шаҳар</text>
<text x="325.5" y="223.1" class="an">+37,5%</text>
<text x="319.8" y="137.8" class="an">+2,0%</text>
<text x="523.8" y="161.9" class="an">-35,3%</text>
<text x="106.6" y="187.2" class="an">2 марта</text>
<line x1="99.8" y1="189.5" x2="99.8" y2="180.8" stroke="#b02a3e" stroke-width="0.9"/>
<polyline points="98.4,183 99.8,180.3 101.2,183" fill="none" stroke="#b02a3e" stroke-width="1"/>
<text x="157" y="35" class="ti">Енгил автомобиллар сонининг ўзгариши динамикаси, 2021-2024 йй.</text>
<text x="40.4" y="396.3" class="src" textLength="75" lengthAdjust="spacingAndGlyphs">Манба: Республика ДВН</text>
</svg>
</body></html>
